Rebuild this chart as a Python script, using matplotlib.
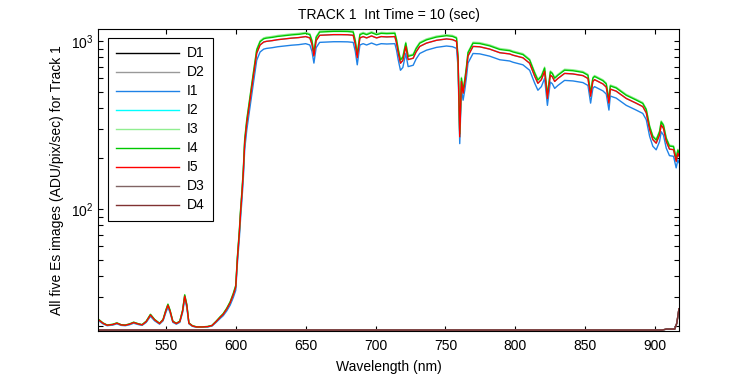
import numpy as np
import matplotlib
matplotlib.use('Agg')
import matplotlib.pyplot as plt
from matplotlib.ticker import LogLocator, NullFormatter, FixedLocator

plt.rcParams['font.family'] = ['Liberation Sans', 'DejaVu Sans']

# Spectrum of image I4 (nm, ADU/pix/sec)
wavelength = [502, 505, 508, 512, 515, 518, 521, 524, 527, 530, 533, 536, 539, 542,
              545.5, 548, 550, 551.5, 553, 555, 557.5, 560, 562, 563.5, 565, 566.5,
              569, 572, 576, 580, 583, 586, 589, 591, 593.5, 596, 598.3, 600, 601.2,
              602.6, 603.5, 604.5, 605.4, 606.4, 607.9, 610.2, 612.6, 615, 617.4, 620,
              622, 626, 630, 635, 640, 645, 650, 653, 654.5, 655.9, 657.5, 660, 665,
              670, 675, 680, 684, 685.5, 686.9, 688.8, 691.1, 693.6, 697.1, 700.7, 704,
              708, 713.8, 715, 716.2, 717.8, 719.5, 721.6, 723.3, 726.9, 729, 731.6,
              736.4, 743.6, 750.7, 755, 757.9, 759, 760.2, 761.4, 762.6, 763.8, 765,
              766.1, 769.7, 774.5, 781.6, 788.8, 795.9, 798.3, 805.4, 810.2, 813.8,
              816.1, 818.6, 820.9, 822.9, 825, 826.4, 828.1, 830.4, 835.2, 841.2, 848.3,
              851.9, 853.8, 855.4, 856.6, 862.6, 865, 866.9, 867.9, 872.1, 879.3, 886.4,
              891.1, 893.6, 896, 898.3, 900.7, 903.1, 904.3, 905.9, 907.9, 910.2, 913.1,
              915, 916.2, 917]
i4_counts = [22.0, 21.0, 20.4, 20.6, 21.0, 20.5, 20.4, 20.7, 21.2, 20.8, 20.5, 21.5, 23.6,
             22.0, 20.9, 22.0, 25.0, 27.1, 25.0, 21.5, 20.9, 21.5, 25.0, 30.8, 27.0, 21.0,
             20.2, 19.9, 19.9, 20.0, 20.3, 21.5, 22.9, 23.8, 25.6, 28.0, 31.5, 35, 52,
             75, 100, 130, 171, 258, 339, 466, 643, 884, 990, 1030,
             1040, 1050, 1064, 1075, 1087, 1095, 1110, 1090, 1000, 850, 1050, 1130, 1135,
             1140, 1140, 1138, 1130, 1000, 830, 1090, 1110, 1090, 1120, 1090, 1110,
             1105, 1110, 1015, 890, 770, 800, 970, 810, 825, 900, 970,
             1015, 1055, 1075, 1065, 1040, 800, 280, 600, 510, 585, 700,
             850, 970, 965, 935, 890, 875, 860, 830, 770, 645,
             585, 615, 690, 475, 655, 640, 600, 625, 670, 665, 650,
             625, 490, 600, 615, 580, 555, 445, 540, 525, 475, 445,
             425, 390, 310, 270, 257, 288, 330, 315, 263, 237, 235,
             200, 224, 215]

# dark frames
dark_wavelength = [502, 905, 908, 914, 915.5, 916.5, 917]
dark_counts = [19.05, 19.05, 19.3, 19.3, 21.0, 24.0, 25.5]

labels = ['D1', 'D2', 'I1', 'I2', 'I3', 'I4', 'I5', 'D3', 'D4']
colors = ['#000000', '#999999', '#1f82e6', '#00ffff', '#90ee90', '#00c800',
          '#ff0000', '#806464', '#803232']
# relative gain of each image vs I4 (None = dark frame)
gains = [None, None, 0.866, 0.956, 1.014, 1.0, 0.956, None, None]

wl = np.array(wavelength)
i4 = np.array(i4_counts)
dark0 = dark_counts[0]

fig = plt.figure(figsize=(7.5, 3.75), dpi=100)
ax = fig.add_axes([0.1307, 0.1173, 0.7746, 0.8053])

for lab, col, g in zip(labels, colors, gains):
    if g is None:
        ax.plot(dark_wavelength, dark_counts, color=col, lw=1, label=lab)
    else:
        ax.plot(wl, dark0 + g * (i4 - dark0), color=col, lw=1, label=lab)

ax.set_yscale('log')
ax.set_xlim(501.5, 917)
ax.set_ylim(18.8, 1178)
ax.xaxis.set_major_locator(FixedLocator([550, 600, 650, 700, 750, 800, 850, 900]))
ax.yaxis.set_major_locator(LogLocator(base=10))
ax.yaxis.set_minor_locator(LogLocator(base=10, subs=np.arange(2, 10)))
ax.yaxis.set_minor_formatter(NullFormatter())
ax.tick_params(which='both', direction='in', top=True, right=True, length=3.6,
               width=0.8, labelsize=10)
ax.tick_params(axis='x', pad=6)
for s in ax.spines.values():
    s.set_linewidth(0.8)

ax.set_xlabel('Wavelength (nm)', fontsize=10, labelpad=5)
ax.set_ylabel('All five Es images (ADU/pix/sec) for Track 1', fontsize=10, labelpad=5)
ax.set_title('TRACK 1  Int Time = 10 (sec)', fontsize=10, pad=7)

leg = ax.legend(loc='upper left', bbox_to_anchor=(0.0172, 0.970), borderaxespad=0,
                fontsize=10, handlelength=4.5, handletextpad=0.6, labelspacing=0.36,
                borderpad=0.6, fancybox=False, framealpha=1)
leg.get_frame().set_edgecolor('black')
leg.get_frame().set_linewidth(0.8)

fig.savefig('out.png', dpi=100)
